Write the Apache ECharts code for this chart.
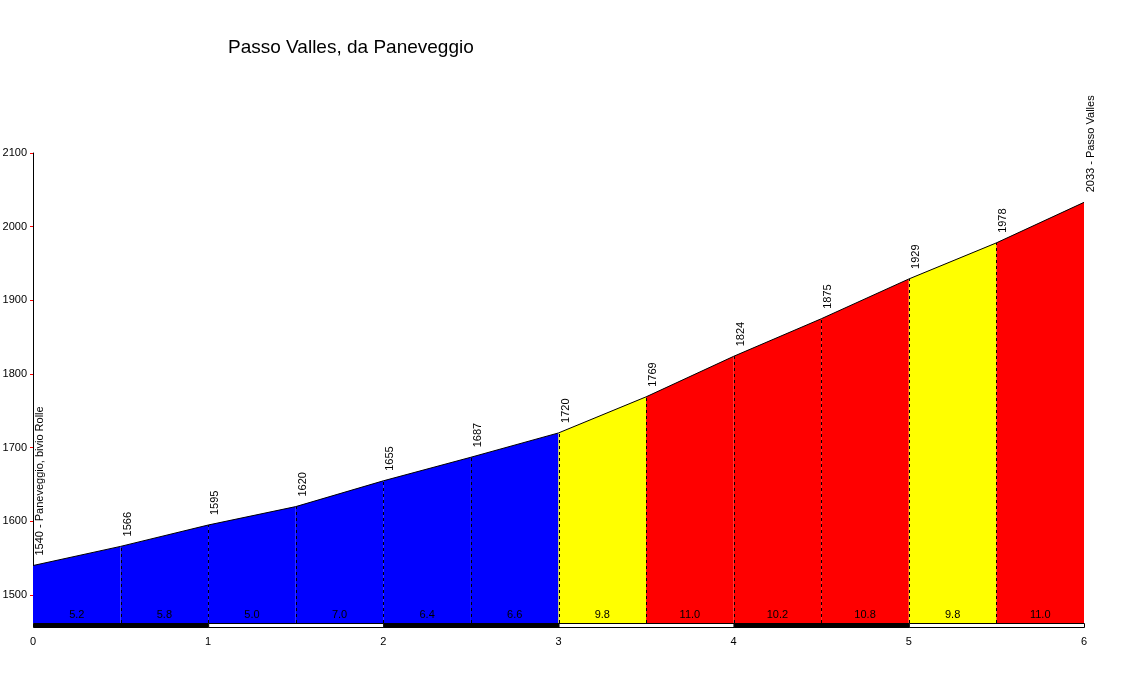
<!DOCTYPE html>
<html><head><meta charset="utf-8">
<script src="https://cdn.jsdelivr.net/npm/echarts@6/dist/echarts.min.js"></script>
<style>html,body{margin:0;padding:0;background:#fff}#c{width:1137px;height:673px}</style>
</head><body><div id="c"></div>
<script>
const titleText = 'Passo Valles, da Paneveggio';
const km = [0, 0.5, 1, 1.5, 2, 2.5, 3, 3.5, 4, 4.5, 5, 5.5, 6];
const elevation = [1540, 1566, 1595, 1620, 1655, 1687, 1720, 1769, 1824, 1875, 1929, 1978, 2033];
const gradients = [5.2, 5.8, 5.0, 7.0, 6.4, 6.6, 9.8, 11.0, 10.2, 10.8, 9.8, 11.0];
const startName = 'Paneveggio, bivio Rolle';
const endName = 'Passo Valles';
const yTicks = [1500, 1600, 1700, 1800, 1900, 2000, 2100];
const xTicks = [0, 1, 2, 3, 4, 5, 6];
const yMin = 1462, yMax = 2100;

const FONT = 'Liberation Sans, Arial, sans-serif';
function gradColor(g) { if (g < 8) return '#0000ff'; if (g < 10) return '#ffff00'; return '#ff0000'; }

const segData = gradients.map((g, i) => [km[i], km[i + 1], elevation[i], elevation[i + 1], g]);
const pointData = km.map((k, i) => [k, elevation[i], i]);
const bandData = xTicks.slice(0, -1).map((k, i) => [k, xTicks[i + 1], i]);
const profile = km.map((k, i) => [k, elevation[i]]);

const chart = echarts.init(document.getElementById('c'), null, { renderer: 'canvas' });
chart.setOption({
  animation: false,
  backgroundColor: '#fff',
  title: { text: titleText, left: 223, top: 33, textStyle: { fontFamily: FONT, fontSize: 19, fontWeight: 'normal', color: '#000' } },
  grid: { left: 33, right: 53, top: 153, bottom: 50, containLabel: false, outerBoundsMode: 'none' },
  xAxis: {
    type: 'value', min: 0, max: 6, interval: 1,
    axisLine: { show: false }, axisTick: { show: false }, splitLine: { show: false },
    axisLabel: { fontFamily: FONT, fontSize: 11, color: '#000', margin: 13, formatter: v => String(v) }
  },
  yAxis: {
    type: 'value', min: yMin, max: yMax,
    axisLine: { show: true, lineStyle: { color: '#000', width: 1 } },
    axisTick: { show: true, customValues: yTicks, length: 3, lineStyle: { color: '#ff0000' } },
    axisLabel: { customValues: yTicks, fontFamily: FONT, fontSize: 11, color: '#000', margin: 6, formatter: v => String(v) },
    splitLine: { show: false }
  },
  series: [
    {
      type: 'custom', data: segData, z: 1, silent: true,
      renderItem: function (params, api) {
        const x0 = api.value(0), x1 = api.value(1), e0 = api.value(2), e1 = api.value(3), g = api.value(4);
        const p0 = api.coord([x0, yMin]), p1 = api.coord([x0, e0]), p2 = api.coord([x1, e1]), p3 = api.coord([x1, yMin]);
        return {
          type: 'polygon',
          shape: { points: [p0, p1, p2, p3] },
          style: { fill: gradColor(g), stroke: null }
        };
      }
    },
    {
      type: 'custom', data: pointData, z: 2, silent: true,
      renderItem: function (params, api) {
        const k = api.value(0), e = api.value(1), i = api.value(2);
        if (i === 0 || i === km.length - 1) return null;
        const pb = api.coord([k, yMin]), pt = api.coord([k, e]);
        const x = Math.round(pb[0]) + 0.5;
        return {
          type: 'line',
          shape: { x1: x, y1: pb[1], x2: x, y2: pt[1] },
          style: { stroke: '#000', lineWidth: 1, lineDash: [3, 3] }
        };
      }
    },
    {
      type: 'line', data: profile, z: 3, silent: true, symbol: 'none',
      lineStyle: { color: '#000', width: 1 }
    },
    {
      type: 'custom', data: segData, z: 4, silent: true,
      renderItem: function (params, api) {
        const x0 = api.value(0), x1 = api.value(1), g = api.value(4);
        const pa = api.coord([x0, yMin]), pb = api.coord([x1, yMin]);
        return {
          type: 'text',
          x: (pa[0] + pb[0]) / 2, y: pa[1] - 8,
          style: { text: g.toFixed(1), fill: '#000', font: '11px ' + FONT, align: 'center', verticalAlign: 'middle' }
        };
      }
    },
    {
      type: 'custom', data: pointData, z: 5, silent: true,
      renderItem: function (params, api) {
        const k = api.value(0), e = api.value(1), i = api.value(2);
        const p = api.coord([k, e]);
        let txt = String(e);
        if (i === 0) txt = e + ' - ' + startName;
        if (i === km.length - 1) txt = e + ' - ' + endName;
        return {
          type: 'text',
          x: p[0] + 7, y: p[1] - 10,
          rotation: Math.PI / 2,
          style: { text: txt, fill: '#000', font: '11px ' + FONT, align: 'left', verticalAlign: 'middle' }
        };
      }
    },
    {
      type: 'custom', data: bandData, z: 6, silent: true,
      renderItem: function (params, api) {
        const a = api.value(0), b = api.value(1), i = api.value(2);
        const pa = api.coord([a, yMin]), pb = api.coord([b, yMin]);
        const dark = i % 2 === 0;
        return {
          type: 'rect',
          shape: { x: pa[0] + 0.5, y: pa[1] + 0.5, width: pb[0] - pa[0], height: 4 },
          style: { fill: dark ? '#000' : '#fff', stroke: '#000', lineWidth: 1 }
        };
      }
    }
  ]
});
</script></body></html>
